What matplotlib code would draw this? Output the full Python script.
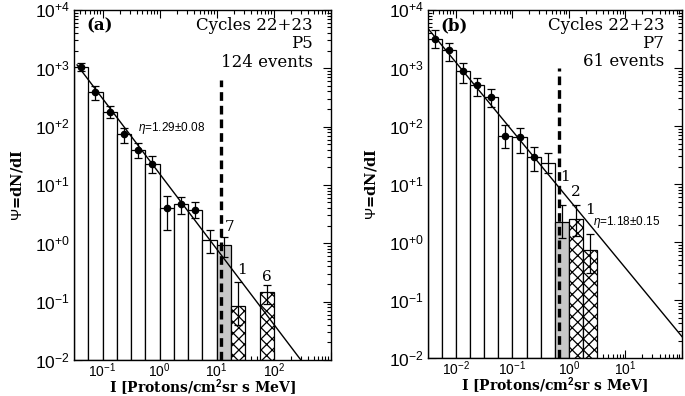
"""
Распределение интенсивностей протонных событий (P5 и P7), циклы 22+23.
Две панели: гистограмма dN/dI в логарифмических бинах + степенная аппроксимация.
"""

import numpy as np
import matplotlib
matplotlib.use('Agg')
import matplotlib.pyplot as plt
from matplotlib.ticker import LogLocator, FuncFormatter, NullFormatter

plt.rcParams['mathtext.fontset'] = 'custom'
plt.rcParams['mathtext.rm'] = 'Liberation Sans'
plt.rcParams['mathtext.it'] = 'Liberation Sans:italic'
plt.rcParams['mathtext.bf'] = 'Liberation Sans:bold'
plt.rcParams['hatch.linewidth'] = 0.9

SERIF = 'DejaVu Serif'
SANS = 'Liberation Sans'

# Панель (a) — P5, 124 события

A_BIN_W = 0.25                                   # ширина бина, декады
A_WHITE_LEFT = [-1.5, -1.25, -1.0, -0.75, -0.5, -0.25, 0.0, 0.25, 0.5, 0.75]
A_WHITE_VAL = [1050, 390, 175, 75, 40, 22.5, 4.0, 4.7, 3.7, 1.15]
A_WHITE_LO = [900, 290, 138, 53, 29, 16, 1.7, 3.2, 2.7, 0.68]
A_WHITE_HI = [1250, 500, 226, 95, 53, 31, 6.5, 6.3, 5.0, 1.7]
A_WHITE_DOT = [True] * 9 + [False]

A_GRAY_LEFT = [1.0]
A_GRAY_VAL = [0.93]
A_GRAY_LO = [0.59]
A_GRAY_HI = [1.3]

A_HATCH_LEFT = [1.25, 1.75]
A_HATCH_VAL = [0.074, 0.139]
A_HATCH_LO = [0.04, 0.091]
A_HATCH_HI = [0.22, 0.193]

A_COUNTS = ['7', '1', '6']                       # серый, штрих., штрих.
A_COUNT_Y = [1.93, 0.35, 0.26]
A_COUNT_DX = [4, 3, 0]

A_ETA, A_ETA_ERR = 1.29, 0.08
A_FIT_X0, A_FIT_Y0 = 10 ** -1.446, 10 ** 3.057  # опорная точка аппроксимации
A_ETA_POS = (0.42, 95)
A_CUT_X, A_CUT_TOP = 11.9, 630
A_XLIM = (10 ** -1.5, 10 ** 3.0)
A_XTICKS = [-1, 0, 1, 2]

# Панель (b) — P7, 61 событие

B_BIN_W = 0.25
B_WHITE_LEFT = [-2.5, -2.25, -2.0, -1.75, -1.5, -1.25, -1.0, -0.75, -0.5]
B_WHITE_VAL = [3150, 2050, 900, 500, 315, 67, 65, 29, 23.5]
B_WHITE_LO = [2200, 1340, 550, 325, 210, 42, 34, 17, 15.5]
B_WHITE_HI = [4500, 2700, 1240, 665, 430, 105, 93, 44, 34]
B_WHITE_DOT = [True] * 8 + [False]

B_GRAY_LEFT = [-0.25]
B_GRAY_VAL = [2.25]
B_GRAY_LO = [1.2]
B_GRAY_HI = [4.4]

B_HATCH_LEFT = [0.0, 0.25]
B_HATCH_VAL = [2.5, 0.72]
B_HATCH_LO = [1.3, 0.3]
B_HATCH_HI = [4.4, 1.37]

B_COUNTS = ['1', '2', '1']
B_COUNT_Y = [13.4, 7.4, 3.6]
B_COUNT_DX = [2, 0, 0]

B_ETA, B_ETA_ERR = 1.18, 0.15
B_FIT_X0, B_FIT_Y0 = 10 ** -2.5, 10 ** 3.685
B_ETA_POS = (2.67, 2.23)
B_CUT_X, B_CUT_TOP = 0.676, 1000
B_XLIM = (10 ** -2.5, 10 ** 2.0)
B_XTICKS = [-2, -1, 0, 1]

YLIM = (1e-2, 1e4)


def _bars(ax, left_log, width_log, vals, **kw):
    left = 10 ** np.asarray(left_log, dtype=float)
    right = 10 ** (np.asarray(left_log, dtype=float) + width_log)
    ax.bar(left, vals, width=right - left, align='edge', bottom=YLIM[0],
           edgecolor='black', linewidth=0.9, zorder=2, **kw)
    return np.sqrt(left * right)                  # геометрические центры


def _errs(ax, xc, vals, lo, hi, dots):
    vals, lo, hi = map(np.asarray, (vals, lo, hi))
    ax.errorbar(xc, vals, yerr=[vals - lo, hi - vals], fmt='none',
                ecolor='black', elinewidth=0.9, capsize=3, capthick=0.9, zorder=4)
    dots = np.asarray(dots, dtype=bool)
    if dots.any():
        ax.plot(xc[dots], vals[dots], 'o', color='black', ms=4.5, zorder=5)


def draw_panel(ax, tag, prot, nev, w, wl, wv, wlo, whi, wdot,
               gl, gv, glo, ghi, hl, hv, hlo, hhi,
               counts, count_y, count_dx, eta, eta_err, fx0, fy0, eta_pos,
               cut_x, cut_top, xlim, xticks):
    ax.set_xscale('log')
    ax.set_yscale('log')
    ax.set_xlim(*xlim)
    ax.set_ylim(*YLIM)

    xc_w = _bars(ax, wl, w, wv, color='white')
    xc_g = _bars(ax, gl, w, gv, color='#c8c8c8')
    xc_h = _bars(ax, hl, w, hv, color='white', hatch='xxx')

    _errs(ax, xc_w, wv, wlo, whi, wdot)
    _errs(ax, xc_g, gv, glo, ghi, [False] * len(gv))
    _errs(ax, xc_h, hv, hlo, hhi, [False] * len(hv))

    # степенная аппроксимация dN/dI ~ I^-eta
    xf = np.logspace(np.log10(fx0), np.log10(xlim[1]), 200)
    ax.plot(xf, fy0 * (xf / fx0) ** (-eta), color='black', lw=1.0, zorder=6)

    # порог полноты
    ax.vlines(cut_x, YLIM[0], cut_top, colors='black', linestyles=(0, (2.6, 1.5)),
              lw=2.4, zorder=3)

    for txt, xc, yc, dx in zip(counts, np.concatenate([xc_g, xc_h]), count_y, count_dx):
        ax.annotate(txt, (xc, yc), xytext=(dx, 0), textcoords='offset points',
                    ha='center', va='center', fontsize=11, family=SERIF, zorder=7)

    ax.text(eta_pos[0], eta_pos[1], rf'$\eta$={eta:.2f}$\pm${eta_err:.2f}',
            ha='left', va='center', fontsize=8.5, family=SANS, zorder=7)

    ax.text(0.05, 0.955, f'({tag})', transform=ax.transAxes, ha='left', va='center',
            fontsize=12, fontweight='bold', family=SERIF)
    for i, s in enumerate(['Cycles 22+23', prot, f'{nev} events']):
        ax.text(0.93, 0.955 - i * 0.052, s, transform=ax.transAxes,
                ha='right', va='center', fontsize=12, family=SERIF)

    # оси в стиле IDL: риски внутрь со всех сторон
    ax.xaxis.set_major_locator(LogLocator(base=10, numticks=20))
    ax.xaxis.set_minor_locator(LogLocator(base=10, subs=np.arange(2, 10), numticks=20))
    ax.yaxis.set_major_locator(LogLocator(base=10, numticks=20))
    ax.yaxis.set_minor_locator(LogLocator(base=10, subs=np.arange(2, 10), numticks=20))
    ax.xaxis.set_major_formatter(FuncFormatter(
        lambda v, p: rf'$10^{{{int(round(np.log10(v)))}}}$'
        if int(round(np.log10(v))) in xticks else ''))
    ax.yaxis.set_major_formatter(FuncFormatter(
        lambda v, p: rf'$10^{{{int(round(np.log10(v))):+d}}}$'))
    ax.xaxis.set_minor_formatter(NullFormatter())
    ax.yaxis.set_minor_formatter(NullFormatter())
    ax.tick_params(which='both', direction='in', top=True, right=True, width=0.8)
    ax.tick_params(which='major', length=6)
    ax.tick_params(which='minor', length=3)
    ax.tick_params(axis='x', labelsize=10, pad=1)
    ax.tick_params(axis='y', labelsize=12.5, pad=3)
    for sp in ax.spines.values():
        sp.set_linewidth(1.0)

    ax.set_xlabel(r'I [Protons/cm$^{\mathbf{2}}$sr s MeV]', fontsize=10,
                  fontweight='bold', family=SERIF, labelpad=-2)
    ax.set_ylabel(r'$\Psi$=dN/dI', fontsize=10.5, fontweight='bold',
                  family=SERIF, labelpad=7)


fig = plt.figure(figsize=(6.85, 3.96), dpi=100)
fig.patch.set_facecolor('white')
ax_a = fig.add_axes([0.108, 0.091, 0.375, 0.884])
ax_b = fig.add_axes([0.6244, 0.095, 0.3712, 0.880])

draw_panel(ax_a, 'a', 'P5', 124, A_BIN_W, A_WHITE_LEFT, A_WHITE_VAL, A_WHITE_LO,
           A_WHITE_HI, A_WHITE_DOT, A_GRAY_LEFT, A_GRAY_VAL, A_GRAY_LO, A_GRAY_HI,
           A_HATCH_LEFT, A_HATCH_VAL, A_HATCH_LO, A_HATCH_HI,
           A_COUNTS, A_COUNT_Y, A_COUNT_DX, A_ETA, A_ETA_ERR, A_FIT_X0, A_FIT_Y0,
           A_ETA_POS, A_CUT_X, A_CUT_TOP, A_XLIM, A_XTICKS)
draw_panel(ax_b, 'b', 'P7', 61, B_BIN_W, B_WHITE_LEFT, B_WHITE_VAL, B_WHITE_LO,
           B_WHITE_HI, B_WHITE_DOT, B_GRAY_LEFT, B_GRAY_VAL, B_GRAY_LO, B_GRAY_HI,
           B_HATCH_LEFT, B_HATCH_VAL, B_HATCH_LO, B_HATCH_HI,
           B_COUNTS, B_COUNT_Y, B_COUNT_DX, B_ETA, B_ETA_ERR, B_FIT_X0, B_FIT_Y0,
           B_ETA_POS, B_CUT_X, B_CUT_TOP, B_XLIM, B_XTICKS)

fig.savefig('out.png', dpi=100, facecolor='white')
plt.close(fig)
